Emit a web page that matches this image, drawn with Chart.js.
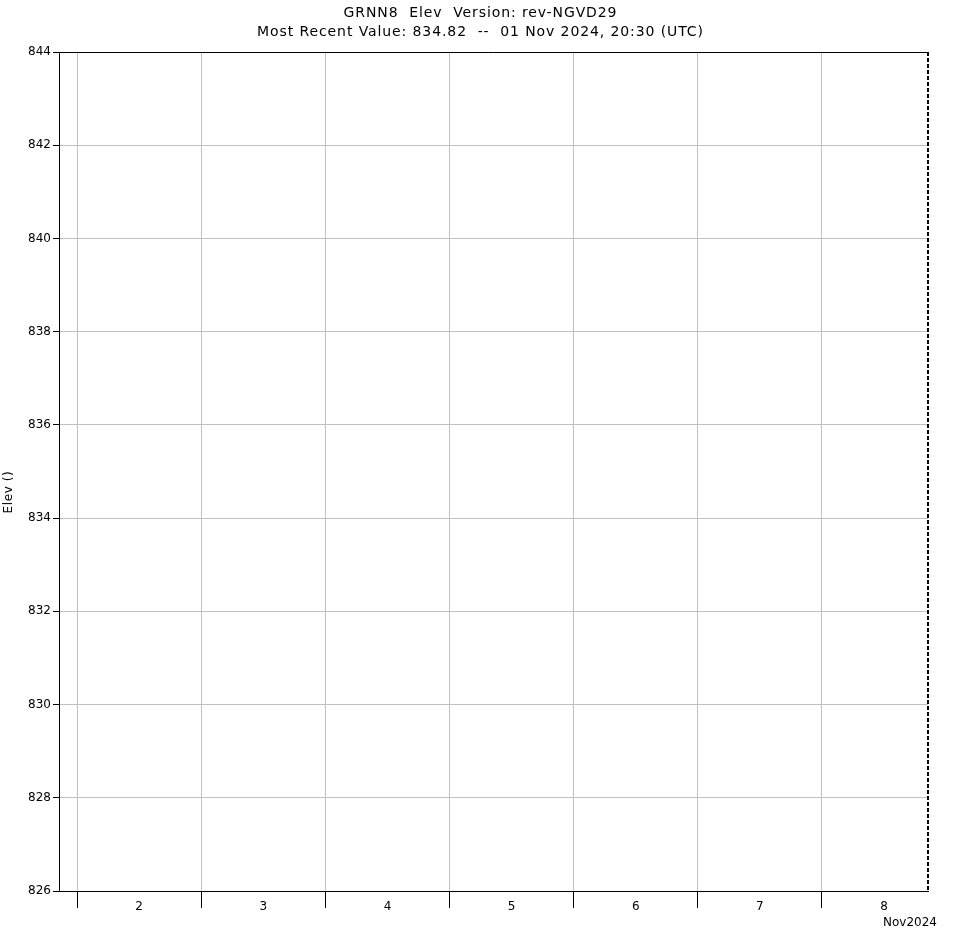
<!DOCTYPE html>
<html>
<head>
<meta charset="utf-8">
<script src="https://cdn.jsdelivr.net/npm/chart.js@4/dist/chart.umd.min.js"></script>
<style>
  html, body { margin: 0; padding: 0; background: #ffffff; }
  #wrap { width: 961px; height: 940px; }
</style>
</head>
<body>
<div id="wrap"><canvas id="c" width="961" height="940"></canvas></div>
<script>
// ---- data ----
const titleLine1 = 'GRNN8  Elev  Version: rev-NGVD29';
const latestValue = '834.82';
const latestTime = '01 Nov 2024, 20:30 (UTC)';
const yAxisTitle = 'Elev ()';
const monthLabel = 'Nov2024';
// x is hours since 01 Nov 2024 00:00 UTC
const xMinHours = 20.5;   // 01 Nov 20:30
const xMaxHours = 188.5;  // 08 Nov 20:30
const dayLabels = ['2', '3', '4', '5', '6', '7', '8'];
const dayStartHours = [24, 48, 72, 96, 120, 144, 168];
const yTickValues = [826, 828, 830, 832, 834, 836, 838, 840, 842, 844];
const elevPoints = []; // no observations plotted in the window

const FONT = 'DejaVu Sans';
const GRID = '#c0c0c0';

const xTickList = [];
dayStartHours.forEach((h, i) => {
  xTickList.push({ value: h, boundary: true, label: '' });
  xTickList.push({ value: h + 12, boundary: false, label: dayLabels[i] });
});
const isBoundary = v => dayStartHours.indexOf(v) !== -1;

const framePlugin = {
  id: 'frame',
  afterDraw(chart) {
    const ctx = chart.ctx;
    const a = chart.chartArea;
    ctx.save();
    // top border
    ctx.strokeStyle = '#000';
    ctx.lineWidth = 1;
    ctx.beginPath();
    ctx.moveTo(a.left, a.top + 0.5);
    ctx.lineTo(a.right, a.top + 0.5);
    ctx.stroke();
    // right dashed border
    ctx.lineWidth = 2;
    ctx.setLineDash([4, 2]);
    ctx.beginPath();
    ctx.moveTo(a.right, a.top);
    ctx.lineTo(a.right, a.bottom);
    ctx.stroke();
    ctx.setLineDash([]);
    // titles
    ctx.fillStyle = '#000';
    ctx.textAlign = 'center';
    ctx.textBaseline = 'middle';
    ctx.font = '14px "' + FONT + '"';
    ctx.letterSpacing = '0.9px';
    ctx.fillText(titleLine1, chart.width / 2, 13);
    ctx.fillText('Most Recent Value: ' + latestValue + '  --  ' + latestTime, chart.width / 2, 32);
    ctx.letterSpacing = '0px';
    // y axis title
    ctx.font = '12px "' + FONT + '"';
    ctx.save();
    ctx.translate(9, 492);
    ctx.rotate(-Math.PI / 2);
    ctx.letterSpacing = '0.6px';
    ctx.fillText(yAxisTitle, 0, 0);
    ctx.restore();
    // month label
    ctx.letterSpacing = '0px';
    ctx.fillText(monthLabel, 910, 923);
    ctx.restore();
  }
};

new Chart(document.getElementById('c'), {
  type: 'line',
  data: {
    datasets: [{
      label: 'Elev',
      data: elevPoints,
      borderColor: '#0000ff',
      pointRadius: 0
    }]
  },
  options: {
    responsive: false,
    animation: false,
    events: [],
    layout: { padding: { left: 0, top: 52, right: 33, bottom: 0 } },
    plugins: { legend: { display: false }, title: { display: false }, tooltip: { enabled: false } },
    scales: {
      x: {
        type: 'linear',
        min: xMinHours,
        max: xMaxHours,
        afterBuildTicks(scale) {
          scale.ticks = xTickList.map(t => ({ value: t.value }));
        },
        afterFit(scale) { scale.height = 49; },
        border: { display: true, color: '#000', width: 1 },
        grid: {
          color: ctx => (ctx.tick && isBoundary(ctx.tick.value)) ? GRID : 'rgba(0,0,0,0)',
          tickColor: ctx => (ctx.tick && isBoundary(ctx.tick.value)) ? '#000' : 'rgba(0,0,0,0)',
          tickLength: 17,
          lineWidth: 1
        },
        ticks: {
          autoSkip: false,
          maxRotation: 0,
          padding: -8,
          color: '#000',
          font: { family: FONT, size: 12 },
          callback(value) {
            const t = xTickList.find(k => k.value === value);
            return t ? t.label : '';
          }
        }
      },
      y: {
        min: 826,
        max: 844,
        afterBuildTicks(scale) {
          scale.ticks = yTickValues.map(v => ({ value: v }));
        },
        afterFit(scale) { scale.width = 59; },
        border: { display: true, color: '#000', width: 1 },
        grid: { color: GRID, tickColor: '#000', tickLength: 6, lineWidth: 1 },
        ticks: {
          padding: 2,
          color: '#000',
          font: { family: FONT, size: 12 },
          callback: v => String(v)
        }
      }
    }
  },
  plugins: [framePlugin]
});
</script>
</body>
</html>
